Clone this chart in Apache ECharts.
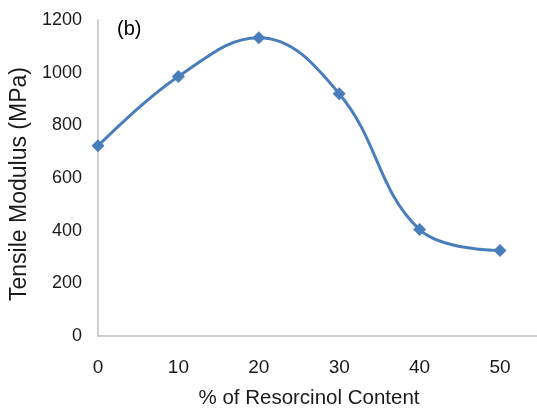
<!DOCTYPE html>
<html>
<head>
<meta charset="utf-8">
<script src="https://cdn.jsdelivr.net/npm/echarts@6/dist/echarts.min.js"></script>
<style>html,body{margin:0;padding:0;background:#fff}#c{width:537px;height:414px}</style>
</head>
<body>
<div id="c"></div>
<script>
var resorcinol = [0, 10, 20, 30, 40, 50];
var tensileModulus = [722, 985, 1133, 920, 404, 325];
var yTicks = [0, 200, 400, 600, 800, 1000, 1200];
var xTitle = '% of Resorcinol Content';
var yTitle = 'Tensile Modulus (MPa)';
var panelLabel = '(b)';

var font = 'Liberation Sans, Arial, sans-serif';
var chart = echarts.init(document.getElementById('c'), null, {renderer: 'canvas'});
chart.setOption({
  animation: false,
  backgroundColor: '#ffffff',
  grid: {left: 98, top: 20, right: 0, bottom: 74, containLabel: false},
  title: {
    text: panelLabel, left: 112, top: 14,
    textStyle: {fontFamily: font, fontSize: 20, fontWeight: 'normal', color: '#000'}
  },
  xAxis: {
    type: 'value', min: 0, max: 54.6, interval: 10,
    name: xTitle, nameLocation: 'middle', nameGap: 52,
    nameTextStyle: {fontFamily: font, fontSize: 20.5, color: '#1a1a1a', padding: [0, 17, 0, 0]},
    axisLine: {show: true, lineStyle: {color: '#c0c0c0', width: 1.5}},
    axisTick: {show: false},
    splitLine: {show: false},
    axisLabel: {
      margin: 22, fontFamily: font, fontSize: 19, color: '#1a1a1a',
      showMaxLabel: false,
      formatter: function (v) { return resorcinol.indexOf(v) >= 0 ? String(v) : ''; }
    }
  },
  yAxis: {
    type: 'value', min: yTicks[0], max: yTicks[yTicks.length - 1], interval: 200,
    name: yTitle, nameLocation: 'middle', nameGap: 64,
    nameTextStyle: {fontFamily: font, fontSize: 23, color: '#1a1a1a', padding: [0, 12, 0, 0]},
    axisLine: {show: true, lineStyle: {color: '#c0c0c0', width: 1.5}},
    axisTick: {show: false},
    splitLine: {show: false},
    axisLabel: {
      margin: 16, fontFamily: font, fontSize: 18, color: '#1a1a1a',
      formatter: function (v) { return String(v); }
    }
  },
  series: [{
    type: 'line',
    data: resorcinol.map(function (x, i) { return [x, tensileModulus[i]]; }),
    smooth: 0.4,
    symbol: 'diamond',
    symbolSize: 13,
    lineStyle: {color: '#4a7ebb', width: 3},
    itemStyle: {color: '#4a7ebb'}
  }]
});
</script>
</body>
</html>
